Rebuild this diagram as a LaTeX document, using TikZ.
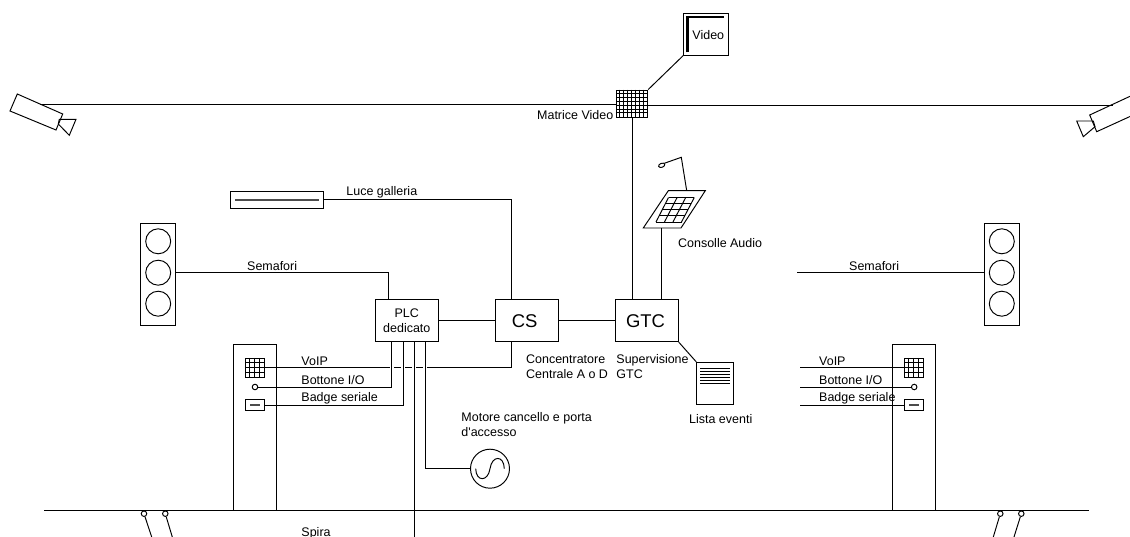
\documentclass[tikz,border=0pt]{standalone}
\usepackage{fontspec}
\setmainfont{Liberation Sans}
\newfontfamily\plainfont{Liberation Sans}
\usepackage{tikz}
\usetikzlibrary{shapes.geometric}
\tikzset{
  boxnode/.style={draw,rectangle,inner sep=0pt},
  lamp/.style={draw,circle,inner sep=0pt,minimum size=.5cm},
  dot/.style={draw,circle,inner sep=0pt,minimum size=.11cm},
  lbl/.style={inner sep=0pt,anchor=base west,align=left,font=\fontsize{7.1}{8.5}\selectfont},
  halo/.style={white,line width=2.2pt}
}
\begin{document}
\begin{tikzpicture}[x=.02cm,y=-.02cm,line width=.55pt]
\useasboundingbox (0,0) rectangle (1130,537);
\clip (0,0) rectangle (1130,537);
% main boxes
\node[boxnode,minimum width=1.26cm,minimum height=.84cm,align=center,font=\fontsize{7.1}{8.5}\selectfont] (plc) at (406.8,320.7) {PLC\\dedicato};
\node[boxnode,minimum width=1.26cm,minimum height=.84cm,font=\fontsize{10.5}{12}\selectfont] (cs) at (526.8,320.7) {CS\kern2.5pt};
\node[boxnode,minimum width=1.26cm,minimum height=.84cm,font=\fontsize{10.5}{12}\selectfont] (gtc) at (646.8,320.7) {GTC\kern1.5pt};
\node[boxnode,minimum width=.628cm,minimum height=.546cm] (matrix) at (632,103.7) {};
\node[boxnode,minimum width=.89cm,minimum height=.834cm] (video) at (706,34.2) {};
\node[boxnode,minimum width=.74cm,minimum height=.84cm] (lista) at (715.2,383.3) {};
\node[boxnode,minimum width=1.86cm,minimum height=.34cm] (luce) at (277.2,199.8) {};
\node[boxnode,circle,minimum size=.78cm] (motor) at (490,468.7) {};
% traffic lights
\foreach \side/\xc in {L/158.2,R/1001.8}{
  \node[boxnode,minimum width=.7cm,minimum height=2.034cm] (traf\side) at (\xc,274.8) {};
  \foreach \n/\yc in {1/241.3,2/272.7,3/303.7}
    \node[lamp] (lamp\side\n) at (\xc,\yc) {};
}
% kiosks
\foreach \side/\xc in {L/255,R/914.2}{
  \node[boxnode,minimum width=.868cm,minimum height=3.32cm] (kiosk\side) at (\xc,427) {};
  \node[boxnode,minimum width=.38cm,minimum height=.38cm] (key\side) at (\xc,367.8) {};
  \node[boxnode,minimum width=.38cm,minimum height=.228cm] (badge\side) at (\xc,405) {};
  \node[dot] (btn\side) at (\xc,387) {};
  \foreach \i in {1,2,3}{
    \draw (key\side.north west) ++(\i*4.75,0) -- ++(0,19);
    \draw (key\side.north west) ++(0,\i*4.75) -- ++(19,0);
  }
  \draw[black!70,line width=1pt] (badge\side.center) +(-5,0) -- +(5,0);
}
% grid of the matrix
\foreach \i in {1,...,7} \draw (matrix.north west) ++(\i*3.93,0) -- ++(0,27.3);
\foreach \i in {1,...,6} \draw (matrix.north west) ++(0,\i*3.9) -- ++(31.4,0);
% inside of video and lista
\draw[line width=1.3pt] (687.5,52.5) -- (687.5,17.3) -- (724,17.3);
\foreach \i in {0,...,5} \draw (700,368+\i*3.1) -- (729.5,368+\i*3.1);
\draw[black!70,line width=1pt] (235,199.8) -- (319,199.8);
\draw (475.7,468.7) .. controls (476,482) and (488,482) .. (490,468.7) .. controls (492,455) and (504,455) .. (504.3,468.7);
% cameras
\coordinate (camL) at (40,104.2);
\coordinate (camR) at (1113,105);
\draw (camL) -- (matrix.west |- camL);
\draw (matrix.east |- camR) -- (camR);
\draw (17.3,94) -- (62.7,114) -- (56,130) -- (10,111) -- cycle;
\draw (58.3,124) -- (59.3,119.3) -- (76,119.3) -- (69.3,135.3) -- cycle;
\draw (1135,94) -- (1089.7,115) -- (1096.7,131.7) -- (1142,111) -- cycle;
\draw (1095,126.7) -- (1093.3,121) -- (1076.7,121) -- (1083.3,136.7) -- cycle;
% consolle
\coordinate (consB) at (661.7,228);
\draw (668.3,190.7) -- (705.3,190.7) -- (681,228) -- (643.3,228) -- cycle;
\foreach \i in {0,...,4} \draw (668.5-\i*3.13,197.5+\i*6.13) -- (694.3-\i*3.2,197.5+\i*6.13);
\foreach \i in {0,...,3} \draw (668.5+\i*8.6,197.5) -- (656+\i*8.5,222);
\draw (686.7,190.7) -- (681.3,157.3) -- (664.3,163.3);
\node[draw,ellipse,inner sep=0pt,minimum width=.13cm,minimum height=.08cm,rotate=20] (mic) at (661.7,165.3) {};
% connectors
\coordinate (plcN) at (388.3,299.7);
\coordinate (csN) at (511.7,299.7);
\coordinate (csS) at (511.7,341.7);
\coordinate (plcA) at (391.7,341.7);
\coordinate (plcB) at (403,341.7);
\coordinate (plcC) at (414.3,341.7);
\coordinate (plcD) at (425.3,341.7);
\coordinate (plcEnd) at (414.3,537);
\draw (plc) -- (cs);
\draw (cs) -- (gtc);
\draw (matrix.north east) -- (video.south west);
\draw (matrix.south) -- (matrix.south |- gtc.north);
\draw (consB) -- (consB |- gtc.north);
\draw (gtc.south east) -- (lista.north west);
\draw (luce.east) -| (csN);
\draw (trafL.east |- lampL2) -| (plcN);
\draw (csS) |- (keyL.east);
\foreach \v in {plcA,plcB,plcC,plcD} \draw[halo] (\v |- keyL.east) +(0,-2) -- +(0,2);
\draw (plcA) |- (btnL.east);
\draw (plcB) |- (badgeL.east);
\draw (plcC) -- (plcEnd);
\draw (plcD) |- (motor.west);
% right side, free ends
\coordinate (semR) at (797.3,272.7);
\coordinate (voipR) at (800,367.8);
\coordinate (bottR) at (800,387);
\coordinate (badgR) at (800,405);
\draw (semR) -- (semR -| trafR.west);
\draw (voipR) -- (keyR.west);
\draw (bottR) -- (btnR.west);
\draw (badgR) -- (badgeR.west);
% spira and loops
\coordinate (spiraL) at (44,510);
\coordinate (spiraR) at (1089,510);
\draw (spiraL) -- (spiraR);
\foreach \n/\xa/\xb in {1/144/151.7,2/165.3/172.3,3/1000.3/993.3,4/1021.3/1014}{
  \node[dot] (loop\n) at (\xa,513.7) {};
  \coordinate (loopEnd\n) at (\xb,537);
  \draw (loop\n) -- (loopEnd\n);
}
% labels
\node[lbl] (tVideo) at (692,39.3) {Video};
\node[lbl] (tMatrice) at (536.7,120) {Matrice Video};
\node[lbl] (tConsolle) at (677.7,247.3) {Consolle Audio};
\node[lbl] (tLuce) at (346,195.5) {Luce galleria};
\node[lbl] (tSemL) at (246.7,270) {Semafori};
\node[lbl] (tSemR) at (848.7,270) {Semafori};
\node[lbl] (tConc1) at (525.7,363.3) {Concentratore};
\node[lbl] (tConc2) at (525.7,378.3) {Centrale A o D};
\node[lbl] (tSup1) at (616,363.3) {Supervisione};
\node[lbl] (tSup2) at (616,378.3) {GTC};
\node[lbl] (tLista) at (688.7,423.3) {Lista eventi};
\node[lbl] (tMot1) at (461,421.7) {Motore cancello e porta};
\node[lbl] (tMot2) at (461,436.7) {\plainfont d'accesso};
\node[lbl] (tSpira) at (301,536) {Spira};
\foreach \side/\xt in {L/301,R/818.7}{
  \node[lbl] (tVoip\side) at (\xt,365.7) {VoIP};
  \node[lbl] (tBott\side) at (\xt,384.7) {Bottone I/O};
  \node[lbl] (tBadge\side) at (\xt,401) {Badge seriale};
}
\end{tikzpicture}
\end{document}
